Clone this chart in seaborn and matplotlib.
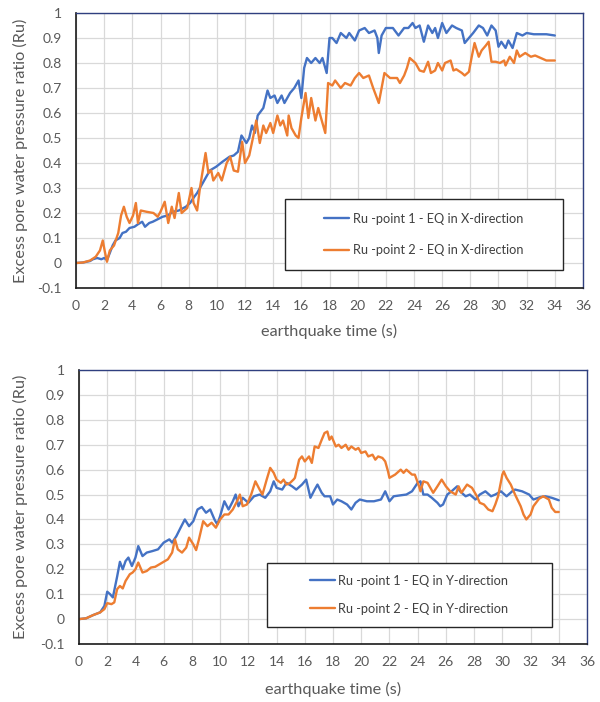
import numpy as np
import pandas as pd
import matplotlib
matplotlib.use("Agg")
import matplotlib.pyplot as plt
from matplotlib.patches import Rectangle
from matplotlib.lines import Line2D
from matplotlib.ticker import MultipleLocator, FuncFormatter
import seaborn as sns

sns.set_theme(style="white")
plt.rcParams["font.family"] = ["Lato", "DejaVu Sans"]
plt.rcParams["axes.unicode_minus"] = False

# ---------------- data: EQ in X-direction ----------------
t_x1 = [0, 0.5, 1.0, 1.2, 1.5, 1.8, 2.0, 2.2, 2.4, 2.6, 2.8, 3.1, 3.3, 3.55, 3.8, 4.15, 4.4, 4.7,
        4.9, 5.2, 5.45, 5.8, 6.15, 6.5, 6.9, 7.3, 7.8, 8.1, 8.4, 8.6, 8.9, 9.2, 9.5, 9.95, 10.4,
        10.9, 11.2, 11.5, 11.75, 12.1, 12.3, 12.5, 12.7, 12.9, 13.3, 13.6, 13.8, 14.1, 14.3, 14.6,
        14.8, 15.2, 15.5, 15.8, 16.0, 16.2, 16.4, 16.7, 17.0, 17.3, 17.5, 17.8, 18.0, 18.2, 18.5,
        18.8, 19.2, 19.4, 19.8, 20.1, 20.5, 20.8, 21.2, 21.4, 21.5, 21.7, 22.0, 22.5, 22.9, 23.3,
        23.6, 23.9, 24.1, 24.4, 24.7, 25.0, 25.3, 25.5, 25.7, 26.0, 26.3, 26.7, 27.0, 27.4, 27.6,
        27.9, 28.2, 28.6, 28.9, 29.2, 29.5, 29.8, 30.0, 30.2, 30.5, 30.7, 31.0, 31.3, 31.7, 32.0,
        32.5, 33.0, 33.4, 34.0]
ru_x1 = [0, 0.002, 0.008, 0.015, 0.02, 0.015, 0.02, 0.012, 0.04, 0.07, 0.09, 0.1, 0.12, 0.125,
         0.14, 0.145, 0.155, 0.165, 0.145, 0.16, 0.165, 0.175, 0.185, 0.19, 0.205, 0.21, 0.225,
         0.24, 0.265, 0.28, 0.31, 0.34, 0.37, 0.385, 0.405, 0.425, 0.43, 0.445, 0.51, 0.48, 0.5,
         0.55, 0.52, 0.59, 0.62, 0.69, 0.66, 0.67, 0.64, 0.67, 0.64, 0.68, 0.70, 0.73, 0.66, 0.78,
         0.82, 0.80, 0.82, 0.80, 0.82, 0.76, 0.90, 0.90, 0.88, 0.92, 0.90, 0.92, 0.89, 0.93, 0.94,
         0.92, 0.93, 0.90, 0.84, 0.91, 0.94, 0.94, 0.91, 0.94, 0.94, 0.96, 0.94, 0.95, 0.885, 0.95,
         0.92, 0.94, 0.90, 0.96, 0.92, 0.95, 0.94, 0.93, 0.88, 0.90, 0.92, 0.95, 0.94, 0.91, 0.95,
         0.93, 0.865, 0.885, 0.86, 0.89, 0.86, 0.92, 0.91, 0.92, 0.915, 0.915, 0.915, 0.91]

t_x2 = [0, 0.5, 1.0, 1.4, 1.7, 1.9, 2.05, 2.2, 2.4, 2.7, 3.0, 3.2, 3.4, 3.6, 3.8, 4.05, 4.25, 4.4,
        4.6, 5.0, 5.5, 5.8, 6.0, 6.3, 6.55, 6.8, 7.0, 7.3, 7.5, 7.9, 8.2, 8.35, 8.6, 8.8, 9.2, 9.4,
        9.6, 9.75, 10.1, 10.35, 10.7, 10.95, 11.2, 11.5, 11.8, 12.0, 12.3, 12.6, 12.8, 13.05, 13.3,
        13.5, 13.8, 14.0, 14.3, 14.5, 14.7, 15.0, 15.1, 15.3, 15.6, 15.8, 16.0, 16.3, 16.5, 16.7,
        17.0, 17.2, 17.5, 17.7, 17.9, 18.2, 18.4, 18.8, 19.1, 19.5, 19.8, 20.1, 20.4, 20.8, 21.1,
        21.5, 21.7, 21.9, 22.3, 22.8, 23.0, 23.3, 23.5, 23.7, 24.1, 24.4, 24.7, 25.0, 25.2, 25.5,
        25.7, 26.0, 26.2, 26.6, 26.8, 27.0, 27.4, 27.6, 27.9, 28.1, 28.3, 28.6, 28.8, 29.1, 29.3,
        29.5, 29.8, 30.1, 30.4, 30.5, 30.8, 31.1, 31.3, 31.5, 31.9, 32.3, 32.6, 33.0, 33.4, 34.0]
ru_x2 = [0, 0.002, 0.01, 0.025, 0.05, 0.09, 0.045, 0.005, 0.05, 0.07, 0.12, 0.19, 0.225, 0.185,
         0.16, 0.19, 0.24, 0.16, 0.21, 0.205, 0.2, 0.185, 0.205, 0.245, 0.16, 0.225, 0.18, 0.28,
         0.2, 0.22, 0.30, 0.24, 0.21, 0.30, 0.44, 0.36, 0.37, 0.33, 0.36, 0.33, 0.40, 0.425, 0.37,
         0.365, 0.485, 0.40, 0.43, 0.51, 0.57, 0.48, 0.55, 0.52, 0.56, 0.52, 0.59, 0.55, 0.57, 0.51,
         0.59, 0.54, 0.51, 0.50, 0.58, 0.68, 0.58, 0.66, 0.57, 0.62, 0.56, 0.52, 0.72, 0.71, 0.73,
         0.70, 0.72, 0.71, 0.74, 0.76, 0.74, 0.75, 0.70, 0.64, 0.70, 0.76, 0.74, 0.74, 0.72, 0.75,
         0.78, 0.82, 0.80, 0.77, 0.765, 0.805, 0.76, 0.77, 0.80, 0.77, 0.80, 0.81, 0.77, 0.775,
         0.76, 0.75, 0.765, 0.825, 0.88, 0.825, 0.85, 0.87, 0.885, 0.805, 0.805, 0.80, 0.81, 0.79,
         0.825, 0.80, 0.85, 0.825, 0.84, 0.825, 0.83, 0.82, 0.81, 0.81]

# ---------------- data: EQ in Y-direction ----------------
t_y1 = [0, 0.5, 1.0, 1.5, 1.8, 2.0, 2.2, 2.4, 2.7, 2.9, 3.1, 3.3, 3.5, 3.75, 4.0, 4.2, 4.5, 4.8,
        5.2, 5.6, 6.0, 6.4, 6.6, 6.9, 7.2, 7.5, 7.8, 8.1, 8.4, 8.7, 9.0, 9.3, 9.6, 9.8, 10.0, 10.3,
        10.6, 10.9, 11.1, 11.3, 11.6, 12.0, 12.4, 12.8, 13.2, 13.55, 13.8, 14.0, 14.4, 14.7, 15.1,
        15.4, 15.8, 16.1, 16.4, 16.7, 16.9, 17.2, 17.4, 17.8, 18.0, 18.3, 18.6, 19.0, 19.3, 19.6,
        19.9, 20.4, 20.9, 21.4, 21.7, 22.0, 22.3, 22.8, 23.2, 23.6, 24.0, 24.2, 24.4, 24.7, 25.0,
        25.4, 25.6, 25.8, 26.1, 26.4, 26.8, 27.0, 27.4, 27.7, 28.1, 28.4, 28.8, 29.2, 29.5, 29.9,
        30.3, 30.7, 30.9, 31.4, 31.9, 32.2, 32.7, 33.05, 33.5, 34.0]
ru_y1 = [0, 0.003, 0.016, 0.027, 0.053, 0.11, 0.10, 0.087, 0.17, 0.23, 0.20, 0.233, 0.247, 0.213,
         0.247, 0.293, 0.253, 0.267, 0.273, 0.28, 0.307, 0.32, 0.307, 0.333, 0.367, 0.40, 0.373,
         0.393, 0.44, 0.45, 0.427, 0.44, 0.40, 0.38, 0.413, 0.473, 0.44, 0.473, 0.50, 0.453, 0.487,
         0.467, 0.493, 0.50, 0.487, 0.513, 0.553, 0.527, 0.52, 0.547, 0.533, 0.52, 0.54, 0.56,
         0.487, 0.52, 0.54, 0.507, 0.493, 0.493, 0.46, 0.48, 0.473, 0.46, 0.44, 0.467, 0.48, 0.473,
         0.473, 0.48, 0.513, 0.473, 0.493, 0.497, 0.50, 0.513, 0.547, 0.553, 0.50, 0.50, 0.487,
         0.467, 0.453, 0.46, 0.50, 0.513, 0.533, 0.513, 0.493, 0.50, 0.48, 0.50, 0.513, 0.493, 0.50,
         0.513, 0.493, 0.513, 0.52, 0.513, 0.50, 0.48, 0.49, 0.493, 0.487, 0.477]

t_y2 = [0, 0.5, 1.0, 1.5, 1.8, 2.0, 2.3, 2.5, 2.7, 2.9, 3.1, 3.3, 3.6, 3.8, 4.0, 4.2, 4.5, 4.8,
        5.1, 5.4, 5.7, 6.0, 6.3, 6.6, 6.8, 7.0, 7.3, 7.6, 7.8, 8.1, 8.3, 8.5, 8.8, 9.1, 9.4, 9.7,
        10.0, 10.3, 10.6, 10.9, 11.2, 11.4, 11.6, 11.9, 12.2, 12.5, 12.8, 13.0, 13.3, 13.55, 13.8,
        14.0, 14.3, 14.5, 14.7, 14.96, 15.2, 15.3, 15.6, 15.8, 16.0, 16.3, 16.5, 16.7, 16.97, 17.2,
        17.4, 17.6, 17.75, 17.9, 18.2, 18.4, 18.6, 18.9, 19.1, 19.3, 19.6, 19.8, 20.0, 20.3, 20.5,
        20.8, 21.0, 21.2, 21.5, 21.7, 21.9, 22.0, 22.4, 22.8, 23.0, 23.2, 23.6, 23.8, 24.1, 24.2,
        24.4, 24.7, 24.9, 25.1, 25.4, 25.7, 26.0, 26.3, 26.7, 26.9, 27.1, 27.5, 27.85, 28.2, 28.4,
        28.7, 29.0, 29.3, 29.5, 29.7, 30.0, 30.1, 30.3, 30.6, 30.9, 31.3, 31.5, 31.7, 32.0, 32.2,
        32.6, 32.9, 33.3, 33.5, 33.75, 34.0]
ru_y2 = [0, 0.003, 0.016, 0.027, 0.04, 0.064, 0.06, 0.067, 0.12, 0.133, 0.123, 0.153, 0.18,
         0.187, 0.20, 0.227, 0.187, 0.193, 0.207, 0.21, 0.22, 0.23, 0.24, 0.267, 0.32, 0.28, 0.267,
         0.287, 0.327, 0.30, 0.277, 0.32, 0.393, 0.373, 0.387, 0.367, 0.40, 0.42, 0.42, 0.44,
         0.473, 0.50, 0.453, 0.46, 0.50, 0.553, 0.52, 0.50, 0.56, 0.607, 0.587, 0.56, 0.547, 0.56,
         0.54, 0.547, 0.56, 0.567, 0.64, 0.653, 0.633, 0.653, 0.627, 0.693, 0.687, 0.72, 0.747,
         0.753, 0.72, 0.733, 0.693, 0.70, 0.687, 0.70, 0.68, 0.693, 0.68, 0.687, 0.667, 0.673,
         0.653, 0.66, 0.64, 0.653, 0.647, 0.633, 0.593, 0.567, 0.58, 0.60, 0.587, 0.60, 0.58, 0.58,
         0.533, 0.513, 0.553, 0.547, 0.527, 0.507, 0.533, 0.56, 0.533, 0.513, 0.50, 0.533, 0.507,
         0.54, 0.527, 0.493, 0.467, 0.46, 0.44, 0.433, 0.46, 0.493, 0.58, 0.593, 0.567, 0.54, 0.50,
         0.453, 0.42, 0.40, 0.42, 0.453, 0.483, 0.493, 0.48, 0.447, 0.43, 0.43]

labels_x = ["Ru -point 1 - EQ in X-direction", "Ru -point 2 - EQ in X-direction"]
labels_y = ["Ru -point 1 - EQ in Y-direction", "Ru -point 2 - EQ in Y-direction"]

BLUE = "#4472C4"
ORANGE = "#ED7D31"
GRID = "#D9D9D9"
TEXT = "#595959"


def frame(t_a, v_a, t_b, v_b, labels):
    a = pd.DataFrame({"time": t_a, "ru": v_a, "series": labels[0]})
    b = pd.DataFrame({"time": t_b, "ru": v_b, "series": labels[1]})
    return pd.concat([a, b], ignore_index=True)


def tick_fmt(v, _):
    v = round(v, 1)
    if abs(v) < 1e-9:
        return "0"
    return f"{v:g}"


def draw(ax, df, labels, box, row_gap, xlabel_y, ylabel_x):
    sns.lineplot(data=df, x="time", y="ru", hue="series", hue_order=labels,
                 palette=[BLUE, ORANGE], estimator=None, sort=False,
                 linewidth=1.7, ax=ax, legend=False)
    ax.set_xlim(0, 36)
    ax.set_ylim(-0.1, 1.0)
    ax.xaxis.set_major_locator(MultipleLocator(2))
    ax.yaxis.set_major_locator(MultipleLocator(0.1))
    ax.yaxis.set_major_formatter(FuncFormatter(tick_fmt))
    ax.grid(True, color=GRID, linewidth=0.9)
    ax.set_axisbelow(True)
    ax.tick_params(length=0, labelsize=10, labelcolor=TEXT)
    ax.tick_params(axis="x", pad=9)
    ax.tick_params(axis="y", pad=10)
    for side in ("top", "right"):
        ax.spines[side].set_color("#2F3F7F")
        ax.spines[side].set_linewidth(1.0)
    for side in ("left", "bottom"):
        ax.spines[side].set_color("#1A1A1A")
        ax.spines[side].set_linewidth(1.2)
    ax.set_xlabel("earthquake time (s)", fontsize=11.7, color=TEXT)
    ax.set_ylabel("Excess pore water pressure ratio (Ru)", fontsize=11.7, color=TEXT)
    ax.xaxis.set_label_coords(0.5, xlabel_y)
    ax.yaxis.set_label_coords(ylabel_x, 0.5)
    ax.xaxis.label.set_va("center")
    ax.yaxis.label.set_va("center")

    x0, y0, w, h = box
    ax.add_patch(Rectangle((x0, y0), w, h, transform=ax.transAxes, facecolor="white",
                           edgecolor="#262626", linewidth=1.0, zorder=4, clip_on=False))
    handles = [Line2D([], [], color=BLUE, linewidth=1.7),
               Line2D([], [], color=ORANGE, linewidth=1.7)]
    leg = ax.legend(handles, labels, loc="center",
                    bbox_to_anchor=(x0 + w / 2, y0 + h / 2), bbox_transform=ax.transAxes,
                    frameon=False, fontsize=9.2, handlelength=1.9, handletextpad=0.3,
                    labelspacing=row_gap, borderpad=0)
    leg.set_zorder(5)
    for txt in leg.get_texts():
        txt.set_color("#404040")


fig = plt.figure(figsize=(6, 7.02), dpi=100)
ax_top = fig.add_axes([76 / 600, 1 - 288 / 702, 507 / 600, 275 / 702])
ax_bot = fig.add_axes([79 / 600, 1 - 644 / 702, 508 / 600, 274 / 702])

draw(ax_top, frame(t_x1, ru_x1, t_x2, ru_x2, labels_x), labels_x,
     box=(0.412, 0.065, 0.548, 0.259), row_gap=1.5, xlabel_y=-0.158, ylabel_x=-0.110)
draw(ax_bot, frame(t_y1, ru_y1, t_y2, ru_y2, labels_y), labels_y,
     box=(0.370, 0.062, 0.561, 0.234), row_gap=1.25, xlabel_y=-0.166, ylabel_x=-0.116)

fig.savefig("out.png", dpi=100)
